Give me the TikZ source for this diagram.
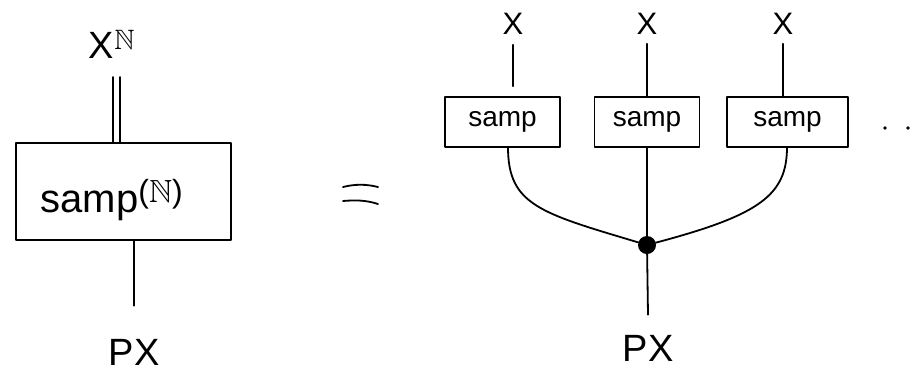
\documentclass[tikz,border=0pt]{standalone}
\usepackage{amssymb}
\usepackage{fontspec}
\setmainfont{Liberation Sans}
\begin{document}
\begin{tikzpicture}[x=1pt,y=-1pt,
  ink/.style={line width=1.8pt, line cap=round, line join=round},
  bigbox/.style={draw, ink, minimum width=215pt, minimum height=97pt, inner sep=0pt},
  smallbox/.style={draw, ink, minimum height=50pt, inner sep=0pt, font=\fontsize{28}{30}\selectfont},
  wirelabel/.style={inner sep=0pt, font=\fontsize{31}{33}\selectfont},
  outlabel/.style={inner sep=0pt, font=\fontsize{38}{40}\selectfont},
  junction/.style={circle, fill=black, minimum size=18pt, inner sep=0pt},
  wire/.style={ink}]
  \useasboundingbox[fill=white] (0,0) rectangle (922,376);

  % left side: the combined sampler
  \node[bigbox] (big) at (123.5,191.5) {};
  \node[inner sep=0pt, font=\fontsize{40}{42}\selectfont] (bigtxt) at (112,200)
    {samp\textsuperscript{\fontsize{32}{34}\selectfont($\mathbb{N}$)}};
  \node[inner sep=0pt, font=\fontsize{38}{40}\selectfont] (xn) at (112,44)
    {X\textsuperscript{\fontsize{28}{30}\selectfont$\mathbb{N}$}};
  \node[outlabel] (pxl) at (134,352) {PX};
  \coordinate (dtop) at (116.5,77);
  \draw[wire] ([xshift=-3.5pt]dtop) -- ([xshift=-3.5pt]dtop |- big.north);
  \draw[wire] ([xshift=3.5pt]dtop) -- ([xshift=3.5pt]dtop |- big.north);
  \draw[wire] (big.south -| pxl) -- ([yshift=33pt]pxl.north);

  % equals sign
  \draw[wire] (343,187) .. controls (355,184) and (366,184) .. (378,187);
  \draw[wire] (343,201) .. controls (355,200) and (366,200) .. (378,204);

  % right side: independent samplers joined by a copy
  \node[smallbox, minimum width=115pt] (b1) at (502.5,122) {samp};
  \node[smallbox, minimum width=105pt] (b2) at (647,122) {samp};
  \node[smallbox, minimum width=121pt] (b3) at (787.5,122) {samp};
  \node[wirelabel] (x1) at (513,24) {X};
  \node[wirelabel] (x2) at (647,24) {X};
  \node[wirelabel] (x3) at (783,24) {X};
  \draw[wire] ([yshift=-10pt]x1.south) -- ([yshift=10pt]x1.south |- b1.north);
  \draw[wire] ([yshift=-9pt]x2.south) -- (b2.north);
  \draw[wire] ([yshift=-9pt]x3.south) -- (x3.south |- b3.north);

  \node[junction] (dot) at (647,245) {};
  \node[outlabel] (pxr) at (648,348) {PX};
  \coordinate (s1) at (508,147);
  \coordinate (s3) at (787,147);
  \draw[wire] (s1) .. controls (508,205) and (540,213) .. (dot);
  \draw[wire] (s3) .. controls (787,195) and (760,215) .. (dot);
  \draw[wire] (b2.south) -- (dot);
  \draw[wire] (dot) -- ([yshift=20pt]pxr.north);

  % trailing dots
  \fill (885,128) circle (1.8pt);
  \fill (908,128) circle (1.8pt);
\end{tikzpicture}
\end{document}
